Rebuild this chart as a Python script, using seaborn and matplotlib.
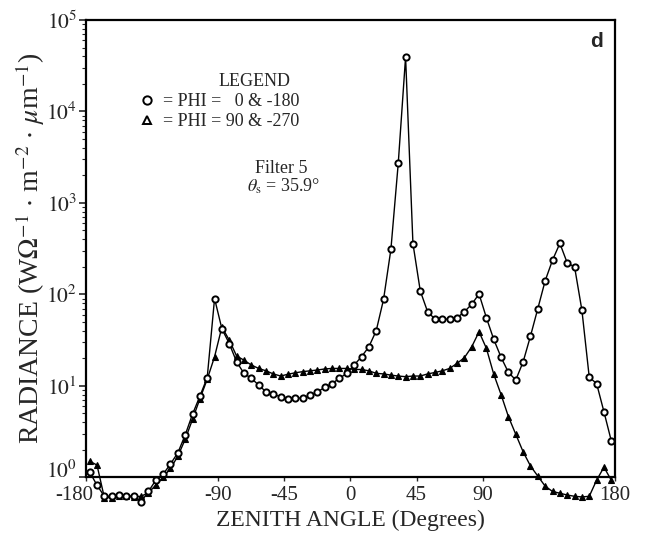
import matplotlib
matplotlib.use("Agg")
import matplotlib.pyplot as plt
import pandas as pd
import seaborn as sns
from matplotlib.lines import Line2D
from matplotlib.ticker import LogLocator, NullFormatter, NullLocator
from matplotlib.transforms import ScaledTranslation

# ---------------- data ----------------
angles = [-177.5, -172.5, -167.5, -162.5, -157.5, -152.5, -147.5, -142.5,
          -137.5, -132.5, -127.5, -122.5, -117.5, -112.5, -107.5, -102.5,
          -97.5, -92.5, -87.5, -82.5, -77.5, -72.5, -67.5, -62.5,
          -57.5, -52.5, -47.5, -42.5, -37.5, -32.5, -27.5, -22.5,
          -17.5, -12.5, -7.5, -2.5, 2.5, 7.5, 12.5, 17.5,
          22.5, 27.5, 32.5, 37.5, 42.5, 47.5, 52.5, 57.5,
          62.5, 67.5, 72.5, 77.5, 82.5, 87.5, 92.5, 97.5,
          102.5, 107.5, 112.5, 117.5, 122.5, 127.5, 132.5, 137.5,
          142.5, 147.5, 152.5, 157.5, 162.5, 167.5, 172.5, 177.5]

phi_0_180 = [1.14, 0.82, 0.62, 0.62, 0.64, 0.63, 0.62, 0.54,
             0.70, 0.93, 1.08, 1.40, 1.85, 2.9, 4.9, 7.7,
             12.3, 90, 42, 29, 18.3, 13.7, 12.1, 10.2,
             8.6, 8.1, 7.6, 7.2, 7.3, 7.4, 7.9, 8.6,
             9.6, 10.6, 12.1, 13.7, 16.9, 20.8, 26.7, 40,
             88, 310, 2700, 39500, 360, 109, 64.5, 53.7,
             53.7, 53.7, 55.5, 64.5, 78, 101, 55.5, 32.2,
             20.5, 14.0, 11.6, 18.3, 35, 70, 141, 237,
             361, 221, 200, 67, 12.4, 10.6, 5.2, 2.5]

phi_90_270 = [1.5, 1.36, 0.60, 0.60, 0.62, 0.62, 0.61, 0.62,
              0.68, 0.82, 1.00, 1.25, 1.70, 2.6, 4.3, 7.2,
              11.8, 20.8, 44, 31.6, 21.2, 19.1, 16.9, 15.5,
              14.6, 13.5, 12.8, 13.4, 13.9, 14.3, 14.6, 14.9,
              15.3, 15.5, 15.5, 15.5, 15.1, 15.1, 14.6, 13.7,
              13.5, 13.1, 12.8, 12.6, 12.8, 12.8, 13.5, 14.0,
              14.6, 15.5, 17.6, 20.3, 26.7, 39, 25.7, 13.4,
              8.0, 4.6, 2.95, 1.9, 1.33, 1.03, 0.80, 0.70,
              0.67, 0.64, 0.62, 0.61, 0.62, 0.93, 1.29, 0.93]

x_ticks = [-180, -90, -45, 0, 45, 90, 180]
x_tick_labels = ["-180", "-90", "-45", "0", "45", "90", "180"]
y_ticks = [1, 10, 100, 1000, 10000, 100000]
y_tick_labels = [r"$10^{0}$", r"$10^{1}$", r"$10^{2}$", r"$10^{3}$",
                 r"$10^{4}$", r"$10^{5}$"]
legend_labels = ["= PHI =   0 & -180", "= PHI = 90 & -270"]

# ---------------- style ----------------
sns.set_style("ticks")
plt.rcParams["font.family"] = ["Liberation Serif", "DejaVu Serif"]
plt.rcParams["mathtext.fontset"] = "stix"
plt.rcParams["axes.unicode_minus"] = False

fig = plt.figure(figsize=(6.47, 5.36), dpi=100)
ax = fig.add_axes([0.1329, 0.1095, 0.8176, 0.8532])

df_circ = pd.DataFrame({"angle": angles, "radiance": phi_0_180})
df_tri = pd.DataFrame({"angle": angles, "radiance": phi_90_270})

sns.lineplot(data=df_tri, x="angle", y="radiance", ax=ax, color="black",
             linewidth=1.0, marker="^", markersize=4.5,
             markerfacecolor="black", markeredgecolor="black",
             markeredgewidth=0.8, clip_on=False, estimator=None, sort=False)
sns.lineplot(data=df_circ, x="angle", y="radiance", ax=ax, color="black",
             linewidth=1.0, marker="o", markersize=4.5,
             markerfacecolor="white", markeredgecolor="black",
             markeredgewidth=1.4, clip_on=False, estimator=None, sort=False)

ax.set_yscale("log")
ax.set_xlim(-180, 180)
ax.set_ylim(1, 1e5)
ax.set_yticks(y_ticks, y_tick_labels)
ax.yaxis.set_minor_locator(LogLocator(base=10, subs=range(2, 10)))
ax.yaxis.set_minor_formatter(NullFormatter())
ax.set_xticks(x_ticks, x_tick_labels)
ax.xaxis.set_minor_locator(NullLocator())

ax.tick_params(axis="y", which="major", direction="out", length=5,
               width=1.2, labelsize=15.5, pad=1.5)
ax.tick_params(axis="y", which="minor", direction="out", length=3, width=0.8)
ax.tick_params(axis="x", which="major", direction="out", length=3,
               width=1.0, labelsize=15, pad=3)
for s in ax.spines.values():
    s.set_linewidth(1.6)
    s.set_color("black")

# -180 label sits slightly left of its tick, 10^0 label slightly raised
first = ax.get_xticklabels()[0]
first.set_horizontalalignment("right")
first.set_transform(first.get_transform() +
                    ScaledTranslation(0.07, 0, fig.dpi_scale_trans))
ybottom = ax.get_yticklabels()[0]
ybottom.set_transform(ybottom.get_transform() +
                      ScaledTranslation(0, 0.08, fig.dpi_scale_trans))

ax.set_xlabel("ZENITH ANGLE (Degrees)", fontsize=17)
ax.xaxis.set_label_coords(0.5, -0.07)
ax.set_ylabel(r"RADIANCE (W$\Omega^{-1}$ $\cdot$ m$^{-2}$ $\cdot$ $\mu$m$^{-1}$)",
              fontsize=20)
ax.yaxis.set_label_coords(-0.073, 0.5)

# legend
handles = [
    Line2D([], [], ls="none", marker="o", ms=6, mfc="white", mec="black", mew=1.4),
    Line2D([], [], ls="none", marker="^", ms=6, mfc="white", mec="black", mew=1.4),
]
ax.legend(handles, legend_labels, loc="upper left", bbox_to_anchor=(0.102, 0.84),
          frameon=False, fontsize=13, handlelength=0.8, handletextpad=0.5,
          labelspacing=0.15, borderpad=0, borderaxespad=0)
ax.text(0.318, 0.866, "LEGEND", transform=ax.transAxes, ha="center",
        va="center", fontsize=13)
ax.text(0.369, 0.676, "Filter 5", transform=ax.transAxes, ha="center",
        va="center", fontsize=13)
ax.text(0.374, 0.637, r"$\theta_{\rm s}$ = 35.9°", transform=ax.transAxes,
        ha="center", va="center", fontsize=13)
ax.text(0.966, 0.952, "d", transform=ax.transAxes, ha="center", va="center",
        fontsize=15, fontweight="bold", family=["Liberation Sans", "DejaVu Sans"])

fig.savefig("out.png", dpi=100)
